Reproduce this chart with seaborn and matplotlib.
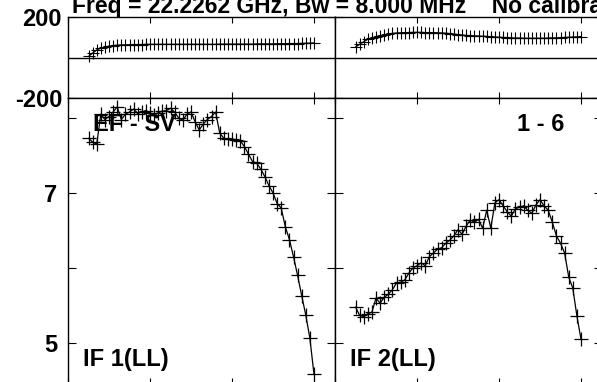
import matplotlib
matplotlib.use("Agg")
import matplotlib.pyplot as plt
import seaborn as sns
import pandas as pd

# Spectral channels shown (edge channels are not plotted)
channels = list(range(5, 61))

# Amplitude per channel, IF 1 and IF 2 (LL)
amp_if1 = [7.73, 7.68, 7.65, 8.05, 7.98, 8.02, 8.08, 8.15, 7.98, 8.05,
           8.08, 8.12, 8.06, 8.08, 8.10, 8.07, 8.04, 8.07, 8.09, 8.10,
           8.13, 8.08, 8.00, 7.97, 8.05, 8.08, 7.95, 7.84, 7.92, 7.98,
           8.02, 8.08, 7.80, 7.73, 7.72, 7.72, 7.71, 7.70, 7.62, 7.52,
           7.42, 7.40, 7.32, 7.22, 7.10, 7.00, 6.86, 6.80, 6.55, 6.38,
           6.15, 5.90, 5.63, 5.37, 5.06, 4.58]
amp_if2 = [5.48, 5.37, 5.35, 5.39, 5.41, 5.60, 5.53, 5.61, 5.65, 5.71,
           5.80, 5.81, 5.84, 5.93, 6.00, 6.03, 6.07, 6.03, 6.15, 6.20,
           6.25, 6.27, 6.33, 6.37, 6.43, 6.51, 6.45, 6.56, 6.64, 6.61,
           6.65, 6.53, 6.77, 6.53, 6.87, 6.91, 6.83, 6.75, 6.69, 6.79,
           6.81, 6.83, 6.77, 6.73, 6.84, 6.91, 6.83, 6.77, 6.61, 6.43,
           6.33, 6.20, 5.88, 5.73, 5.36, 5.05]

# Phase per channel (degrees)
phase_if1 = [5, 22, 37, 46, 52, 56, 59, 61, 62, 63,
             63, 64, 64, 64, 65, 65, 65, 65, 65, 65,
             65, 65, 65, 65, 65, 65, 65, 65, 65, 65,
             65, 65, 66, 66, 66, 66, 66, 66, 66, 66,
             66, 67, 67, 67, 67, 67, 68, 68, 68, 69,
             69, 69, 70, 70, 71, 72]
phase_if2 = [52, 65, 78, 90, 97, 103, 108, 112, 116, 119,
             121, 122, 123, 123, 124, 124, 124, 123, 123, 123,
             122, 121, 120, 118, 116, 113, 111, 109, 108, 107,
             106, 105, 104, 102, 101, 100, 99, 98, 97, 96,
             96, 95, 95, 95, 95, 95, 95, 96, 97, 97,
             98, 99, 100, 101, 102, 103]

amp_ticks = [5, 6, 7, 8]
amp_labels = ["5", "", "7", ""]
phase_ticks = [-200, 200]
phase_labels = ["-200", "200"]
x_ticks = [0, 20, 40, 60]

title = "Freq = 22.2262 GHz, Bw = 8.000 MHz    No calibration applied"
baseline_name = "EF - SV"
stokes_sel = "1 - 6"
if_names = ["IF 1(LL)", "IF 2(LL)"]

sns.set_style("ticks")
plt.rcParams["font.family"] = ["Liberation Sans", "DejaVu Sans"]
plt.rcParams["font.weight"] = "bold"
plt.rcParams["axes.linewidth"] = 1.0

W, H = 597, 382
FS = 17
fig = plt.figure(figsize=(W / 100, H / 100), dpi=100)


def px_axes(x0, y0, x1, y1):
    return fig.add_axes([x0 / W, 1 - y1 / H, (x1 - x0) / W, (y1 - y0) / H])


def fig_text(x, y, s, size=FS):
    fig.text(x / W, 1 - y / H, s, ha="left", va="baseline",
             fontsize=size, fontweight="bold", color="black")


XL, XM, XR = 68, 335, 602
YT, YM, YB = 17, 98, 384

ph = [px_axes(XL, YT, XM, YM), px_axes(XM, YT, XR, YM)]
am = [px_axes(XL, YM, XM, YB), px_axes(XM, YM, XR, YB)]

frames = {
    "ph": [pd.DataFrame({"ch": channels, "v": phase_if1}),
           pd.DataFrame({"ch": channels, "v": phase_if2})],
    "am": [pd.DataFrame({"ch": channels, "v": amp_if1}),
           pd.DataFrame({"ch": channels, "v": amp_if2})],
}

for i in range(2):
    # phase panel
    ax = ph[i]
    sns.lineplot(data=frames["ph"][i], x="ch", y="v", ax=ax, color="black",
                 linewidth=0.9, marker="+", markersize=8,
                 markeredgewidth=0.8, markeredgecolor="black")
    ax.axhline(0, color="black", linewidth=1.0)
    ax.set_ylim(-200, 200)
    ax.set_yticks(phase_ticks)
    ax.set_yticklabels(phase_labels if i == 0 else ["", ""])

    # amplitude panel
    ax = am[i]
    sns.lineplot(data=frames["am"][i], x="ch", y="v", ax=ax, color="black",
                 linewidth=0.9, marker="+", markersize=9.5,
                 markeredgewidth=0.9, markeredgecolor="black")
    ax.set_ylim(4.4533, 8.2667)
    ax.set_yticks(amp_ticks)
    ax.set_yticklabels(amp_labels if i == 0 else [""] * 4)

for ax in ph + am:
    ax.set_xlim(0, 65.12)
    ax.set_xticks(x_ticks)
    ax.set_xticklabels([])
    ax.set_xlabel("")
    ax.set_ylabel("")
    ax.set_facecolor("white")
    for s in ax.spines.values():
        s.set_visible(True)
        s.set_color("black")
        s.set_linewidth(1.0)
    ax.tick_params(axis="x", direction="in", top=True, bottom=True,
                   length=4, width=0.8, color="black")
    ax.tick_params(axis="y", direction="in", left=True, right=True,
                   length=6, width=0.8, color="black", labelsize=FS,
                   labelcolor="black")

for ax in ph:
    ax.tick_params(axis="y", pad=4.3)
for ax in am:
    ax.tick_params(axis="y", pad=7.8)
for t in ph[0].get_yticklabels() + am[0].get_yticklabels():
    t.set_fontweight("bold")

fig_text(72, 13.5, title, size=16.5)
fig_text(93, 131, baseline_name)
fig_text(517, 131, stokes_sel)
fig_text(83, 366, if_names[0])
fig_text(350, 366, if_names[1])

fig.savefig("out.png", dpi=100, facecolor="white")
